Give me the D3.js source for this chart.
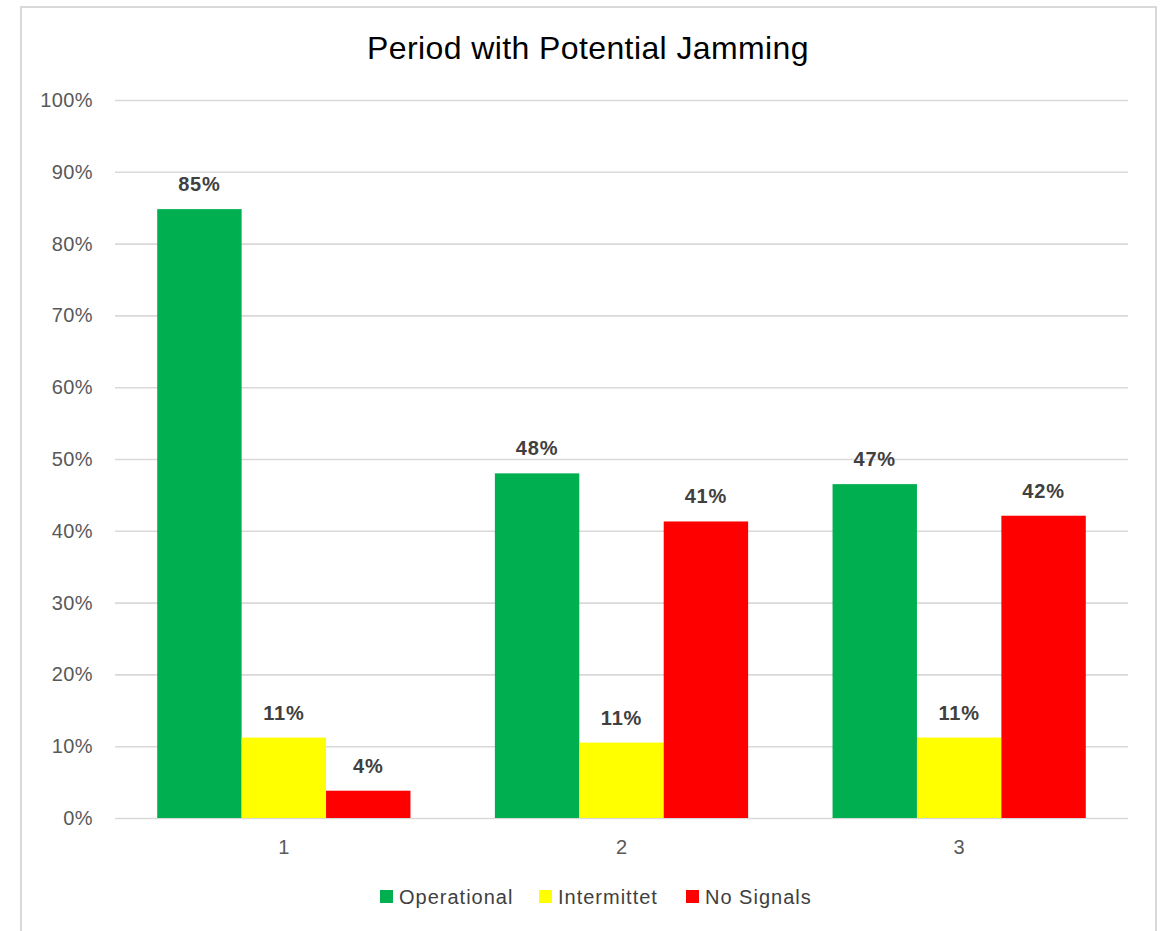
<!DOCTYPE html>
<html>
<head>
<meta charset="utf-8">
<script src="https://cdn.jsdelivr.net/npm/d3@7"></script>
<style>
  html, body { margin: 0; padding: 0; background: #fff; }
  svg { display: block; font-family: "Liberation Sans", Arial, sans-serif; }
</style>
</head>
<body>
<svg id="chart" width="1166" height="931"></svg>
<script>
// Share of devices per period, by signal status
const periods = ["1", "2", "3"];
const seriesNames = ["Operational", "Intermittet", "No Signals"];
const operational = [0.848, 0.480, 0.465];
const intermittet = [0.112, 0.105, 0.112];
const noSignals = [0.038, 0.413, 0.421];
const seriesColors = ["#00b050", "#ffff00", "#ff0000"];
const yTicks = [0, 0.1, 0.2, 0.3, 0.4, 0.5, 0.6, 0.7, 0.8, 0.9, 1.0];
const chartTitle = "Period with Potential Jamming";

const seriesValues = [operational, intermittet, noSignals];
const rows = periods.map((p, i) => ({
  period: p,
  values: seriesNames.map((name, s) => ({ name, value: seriesValues[s][i], color: seriesColors[s] }))
}));

const svg = d3.select("#chart");
const plot = { left: 115, right: 1128, top: 100, bottom: 818 };

// Chart frame
svg.append("path")
  .attr("d", "M21,940 V7 H1156 V940")
  .attr("fill", "none")
  .attr("stroke", "#d9d9d9")
  .attr("stroke-width", 2);

// Title
svg.append("text")
  .attr("x", 588).attr("y", 59)
  .attr("text-anchor", "middle")
  .attr("font-size", 32)
  .attr("letter-spacing", 0.4)
  .attr("fill", "#000")
  .text(chartTitle);

const x0 = d3.scaleBand()
  .domain(periods)
  .range([plot.left, plot.right])
  .paddingInner(0.25)
  .paddingOuter(0.125);

const x1 = d3.scaleBand()
  .domain(seriesNames)
  .range([0, x0.bandwidth()]);

const y = d3.scaleLinear()
  .domain([0, 1])
  .range([plot.bottom, plot.top]);

// Horizontal gridlines and percentage labels
const yAxis = d3.axisLeft(y)
  .tickValues(yTicks)
  .tickFormat(d3.format(".0%"))
  .tickSize(-(plot.right - plot.left))
  .tickPadding(22);

const yg = svg.append("g")
  .attr("transform", `translate(${plot.left},0)`)
  .call(yAxis);
yg.select(".domain").remove();
yg.selectAll(".tick line").attr("stroke", "#d9d9d9").attr("stroke-width", 1.6);
yg.selectAll(".tick text")
  .attr("font-size", 20)
  .attr("letter-spacing", 0.4)
  .attr("fill", "#595959")
  .attr("font-family", "Liberation Sans, Arial, sans-serif");

// Category labels
const xAxis = d3.axisBottom(x0).tickSize(0).tickPadding(22);
const xg = svg.append("g")
  .attr("transform", `translate(0,${plot.bottom})`)
  .call(xAxis);
xg.select(".domain").remove();
xg.selectAll(".tick text")
  .attr("font-size", 20)
  .attr("fill", "#595959")
  .attr("font-family", "Liberation Sans, Arial, sans-serif");

// Bars
const groups = svg.append("g")
  .selectAll("g")
  .data(rows)
  .join("g")
  .attr("transform", d => `translate(${x0(d.period)},0)`);

groups.selectAll("rect")
  .data(d => d.values)
  .join("rect")
  .attr("x", d => x1(d.name))
  .attr("width", x1.bandwidth())
  .attr("y", d => y(d.value))
  .attr("height", d => y(0) - y(d.value))
  .attr("fill", d => d.color);

// Value labels above bars
groups.selectAll("text.value")
  .data(d => d.values)
  .join("text")
  .attr("class", "value")
  .attr("x", d => x1(d.name) + x1.bandwidth() / 2)
  .attr("y", d => y(d.value) - 18)
  .attr("text-anchor", "middle")
  .attr("font-size", 20)
  .attr("letter-spacing", 0.8)
  .attr("font-weight", "bold")
  .attr("fill", "#404040")
  .text(d => d3.format(".0%")(d.value));

// Legend
const legendItems = [
  { name: seriesNames[0], color: seriesColors[0], x: 380 },
  { name: seriesNames[1], color: seriesColors[1], x: 539 },
  { name: seriesNames[2], color: seriesColors[2], x: 686 }
];
const legend = svg.append("g");
const li = legend.selectAll("g")
  .data(legendItems)
  .join("g")
  .attr("transform", d => `translate(${d.x},890)`);
li.append("rect")
  .attr("width", 13).attr("height", 13)
  .attr("fill", d => d.color);
li.append("text")
  .attr("x", 19).attr("y", 14)
  .attr("font-size", 20)
  .attr("letter-spacing", 1)
  .attr("fill", "#404040")
  .text(d => d.name);
</script>
</body>
</html>
